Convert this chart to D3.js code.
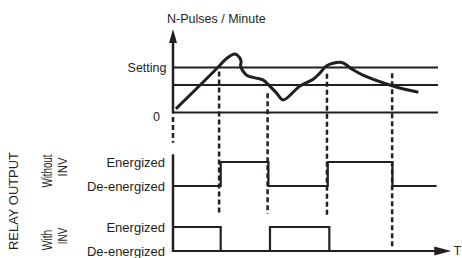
<!DOCTYPE html>
<html>
<head>
<meta charset="utf-8">
<script src="https://cdn.jsdelivr.net/npm/d3@7"></script>
<style>
  body { margin: 0; background: #fff; }
  svg text { font-family: "Liberation Sans", Arial, sans-serif; fill: #231f20; }
</style>
</head>
<body>
<div id="chart"></div>
<script>
// pulse rate over time (t, value) - setting = 100
var pulseT = [1.1, 16.9, 20.0, 23.4, 25.0, 25.7, 25.5, 26.3, 27.8, 30.9, 34.1, 36.6, 39.1, 41.6,
              47.9, 52.9, 55.5, 58.0, 63.7, 67.4, 71.7, 83.0, 92.6];
var pulseV = [8, 100, 119, 130, 123, 113, 104, 93, 83, 77, 72, 58, 43, 28,
              59, 74, 88, 104, 111, 97, 83, 59, 45];

// threshold lines
var levels = [0, 61, 100];
var levelLabels = ["0", "", "Setting"];

// switching instants
var switchTimes = [17.4, 35.7, 58.1, 82.7];
var guideTop = [91, 43, 86, 87];          // pulse units
var guideBottom = [1.5, 1.55, 1.4, 0.15]; // relay state units (With INV panel)

// relay outputs: state changes
var panels = ["Without INV", "With INV"];
var withoutT = [0, 18.0, 36.0, 58.4, 82.8, 99.5];
var withoutS = [0, 1, 0, 1, 0, 0];
var withT = [0, 18.0, 36.6, 59.0, 99.5];
var withS = [1, 0, 1, 0, 0];
var stateLabels = ["De-energized", "Energized"];

var W = 462, H = 258, ink = "#231f20";

var svg = d3.select("#chart").append("svg")
    .attr("width", W)
    .attr("height", H);

var x = d3.scaleLinear().domain([0, 100]).range([173, 438]);
var y = d3.scaleLinear().domain([0, 100]).range([112.5, 67.5]);

var panelBase = d3.scalePoint().domain(panels).range([186, 251]);
function relayY(panel) {
    return d3.scaleLinear().domain([0, 1]).range([panelBase(panel), panelBase(panel) - 24]);
}
var yWithout = relayY("Without INV"), yWith = relayY("With INV");

// dashed guides
svg.selectAll(".guide")
    .data(switchTimes)
    .enter().append("line")
    .attr("class", "guide")
    .attr("x1", function (d) { return x(d); })
    .attr("x2", function (d) { return x(d); })
    .attr("y1", function (d, i) { return y(guideTop[i]); })
    .attr("y2", function (d, i) { return yWith(guideBottom[i]); })
    .attr("stroke", ink)
    .attr("stroke-width", 2.5)
    .attr("stroke-dasharray", "5,3");

// dashed link between the two axes
svg.append("line")
    .attr("x1", x(0)).attr("x2", x(0))
    .attr("y1", y(-10)).attr("y2", yWithout(1.8))
    .attr("stroke", ink)
    .attr("stroke-width", 2.5)
    .attr("stroke-dasharray", "5,3");

// threshold lines
svg.selectAll(".level")
    .data(levels)
    .enter().append("line")
    .attr("x1", x(0) - 1).attr("x2", x(100))
    .attr("y1", function (d) { return y(d); })
    .attr("y2", function (d) { return y(d); })
    .attr("stroke", ink)
    .attr("stroke-width", 2);

// y axis with arrow
var yTop = y(185.5);
svg.append("line")
    .attr("x1", x(0)).attr("x2", x(0))
    .attr("y1", yTop + 8).attr("y2", y(0) + 1)
    .attr("stroke", ink).attr("stroke-width", 2.5);
svg.append("path")
    .attr("d", "M" + x(0) + "," + yTop + "L" + (x(0) + 4) + "," + (yTop + 14) +
        "L" + (x(0) - 4) + "," + (yTop + 14) + "Z")
    .attr("fill", ink);

svg.append("text")
    .attr("x", 167).attr("y", 23)
    .attr("font-size", "12.5px")
    .text("N-Pulses / Minute");

svg.selectAll(".levelLabel")
    .data(levels.filter(function (d, i) { return levelLabels[i]; }))
    .enter().append("text")
    .attr("x", function (d) { return d === 0 ? 160 : 166.5; })
    .attr("y", function (d) { return y(d) + (d === 0 ? 8 : 4); })
    .attr("text-anchor", "end")
    .attr("font-size", "12.5px")
    .text(function (d) { return levelLabels[levels.indexOf(d)]; });

// pulse curve
var curve = d3.line()
    .curve(d3.curveCatmullRom.alpha(0.5))
    .x(function (d) { return x(d[0]); })
    .y(function (d) { return y(d[1]); });
svg.append("path")
    .datum(d3.zip(pulseT, pulseV))
    .attr("d", curve)
    .attr("fill", "none")
    .attr("stroke", ink)
    .attr("stroke-width", 3)
    .attr("stroke-linejoin", "round");

// relay axis
svg.append("line")
    .attr("x1", x(0)).attr("x2", x(0))
    .attr("y1", yWithout(1.32)).attr("y2", yWith(0) + 1)
    .attr("stroke", ink).attr("stroke-width", 2.5);

// T axis with arrow
var tEnd = x(105);
svg.append("line")
    .attr("x1", x(0)).attr("x2", tEnd - 10)
    .attr("y1", yWith(0)).attr("y2", yWith(0))
    .attr("stroke", ink).attr("stroke-width", 2);
svg.append("path")
    .attr("d", "M" + tEnd + "," + yWith(0) + "L" + (tEnd - 17) + "," + (yWith(0) - 4.5) +
        "L" + (tEnd - 17) + "," + (yWith(0) + 4.5) + "Z")
    .attr("fill", ink);
svg.append("text")
    .attr("x", tEnd + 2.5).attr("y", yWith(0) + 4)
    .attr("font-size", "12px")
    .text("T");

// relay steps
var step = function (ys) {
    return d3.line().curve(d3.curveStepAfter)
        .x(function (d) { return x(d[0]); })
        .y(function (d) { return ys(d[1]); });
};
svg.append("path")
    .datum(d3.zip(withoutT, withoutS))
    .attr("d", step(yWithout))
    .attr("fill", "none").attr("stroke", ink).attr("stroke-width", 2.2);
svg.append("path")
    .datum(d3.zip(withT, withS))
    .attr("d", step(yWith))
    .attr("fill", "none").attr("stroke", ink).attr("stroke-width", 2.2);

// relay state labels
[yWithout, yWith].forEach(function (ys) {
    svg.selectAll(null)
        .data([1, 0])
        .enter().append("text")
        .attr("x", 165)
        .attr("y", function (d) { return ys(d) + 4.5; })
        .attr("text-anchor", "end")
        .attr("font-size", "13px")
        .text(function (d) { return stateLabels[d]; });
});

// rotated labels
function vtext(cx, cy, txt, size, len) {
    svg.append("text")
        .attr("transform", "translate(" + cx + "," + cy + ") rotate(-90)")
        .attr("text-anchor", "middle")
        .attr("font-size", size + "px")
        .attr("textLength", len)
        .attr("lengthAdjust", "spacingAndGlyphs")
        .text(txt);
}
vtext(18.3, 201, "RELAY OUTPUT", 13.5, 98);
vtext(51.8, 171, "Without", 15.5, 33);
vtext(66.5, 167, "INV", 13.5, 19);
vtext(51.8, 240, "With", 15.5, 20.5);
vtext(66.5, 236, "INV", 13.5, 16.5);
</script>
</body>
</html>
